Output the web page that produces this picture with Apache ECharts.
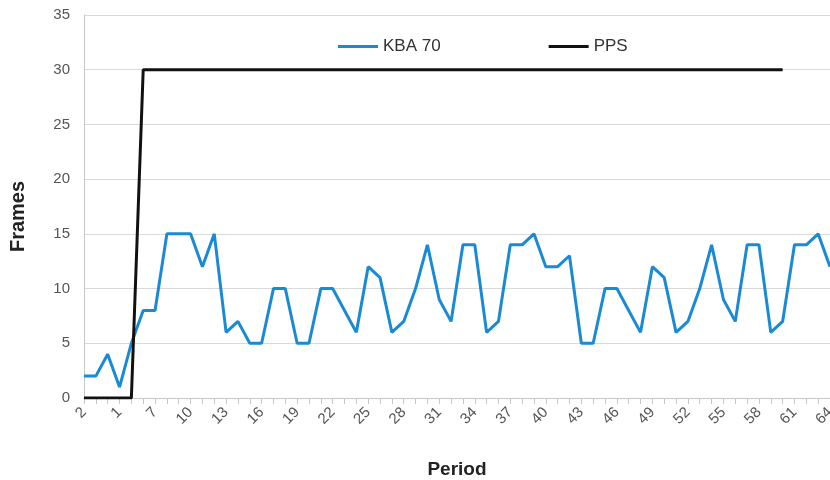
<!DOCTYPE html>
<html>
<head>
<meta charset="utf-8">
<script src="https://cdn.jsdelivr.net/npm/echarts@6/dist/echarts.min.js"></script>
<style>
  html, body { margin: 0; padding: 0; background: #fff; }
  #chart { width: 830px; height: 480px; }
</style>
</head>
<body>
<div id="chart"></div>
<script>
// period labels as they appear on the axis (every 3rd one shown)
var periods = ['2', '2', '3', '1', '5', '6', '7', '8', '9', '10', '11', '12', '13', '14', '15', '16',
  '17', '18', '19', '20', '21', '22', '23', '24', '25', '26', '27', '28', '29', '30', '31', '32',
  '33', '34', '35', '36', '37', '38', '39', '40', '41', '42', '43', '44', '45', '46', '47', '48',
  '49', '50', '51', '52', '53', '54', '55', '56', '57', '58', '59', '60', '61', '62', '63', '64']

var kba70 = [2, 2, 4, 1, 5, 8, 8, 15, 15, 15, 12, 15, 6, 7, 5, 5,
  10, 10, 5, 5, 10, 10, 8, 6, 12, 11, 6, 7, 10, 14, 9, 7,
  14, 14, 6, 7, 14, 14, 15, 12, 12, 13, 5, 5, 10, 10, 8, 6,
  12, 11, 6, 7, 10, 14, 9, 7, 14, 14, 6, 7, 14, 14, 15, 12]

var pps = [0, 0, 0, 0, 0, 30, 30, 30, 30, 30, 30, 30, 30, 30, 30, 30,
  30, 30, 30, 30, 30, 30, 30, 30, 30, 30, 30, 30, 30, 30, 30, 30,
  30, 30, 30, 30, 30, 30, 30, 30, 30, 30, 30, 30, 30, 30, 30, 30,
  30, 30, 30, 30, 30, 30, 30, 30, 30, 30, 30, 30, null, null, null, null]

var chart = echarts.init(document.getElementById('chart'))
chart.setOption({
  animation: false,
  textStyle: { fontFamily: 'Liberation Sans, Arial, sans-serif' },
  grid: { left: 84, right: 0, top: 15, bottom: 82, outerBoundsMode: 'none' },
  legend: {
    left: 333,
    top: 33,
    itemWidth: 40,
    itemHeight: 3,
    itemGap: 108,
    icon: 'rect',
    textStyle: { fontSize: 17, color: '#333' },
    data: ['KBA 70', 'PPS']
  },
  xAxis: {
    type: 'category',
    boundaryGap: false,
    data: periods,
    name: 'Period',
    nameLocation: 'middle',
    nameGap: 62,
    nameTextStyle: { fontSize: 19, fontWeight: 'bold', color: '#222' },
    axisLine: { lineStyle: { color: '#c8c8c8' } },
    axisTick: { interval: 0, length: 6, lineStyle: { color: '#c8c8c8' } },
    axisLabel: { interval: 2, rotate: 45, fontSize: 15, color: '#555', margin: 12 }
  },
  yAxis: {
    type: 'value',
    min: 0,
    max: 35,
    interval: 5,
    name: 'Frames',
    nameLocation: 'middle',
    nameGap: 56,
    nameTextStyle: { fontSize: 20, fontWeight: 'bold', color: '#222', padding: [0, 20, 0, 0] },
    axisLine: { show: true, lineStyle: { color: '#c8c8c8' } },
    axisLabel: { fontSize: 15, color: '#555', margin: 14 },
    splitLine: { lineStyle: { color: '#d9d9d9' } }
  },
  series: [
    {
      name: 'KBA 70',
      type: 'line',
      data: kba70,
      symbol: 'none',
      color: '#1a8ad4',
      lineStyle: { width: 3 }
    },
    {
      name: 'PPS',
      type: 'line',
      data: pps,
      symbol: 'none',
      color: '#111',
      lineStyle: { width: 3 }
    }
  ]
})
</script>
</body>
</html>
